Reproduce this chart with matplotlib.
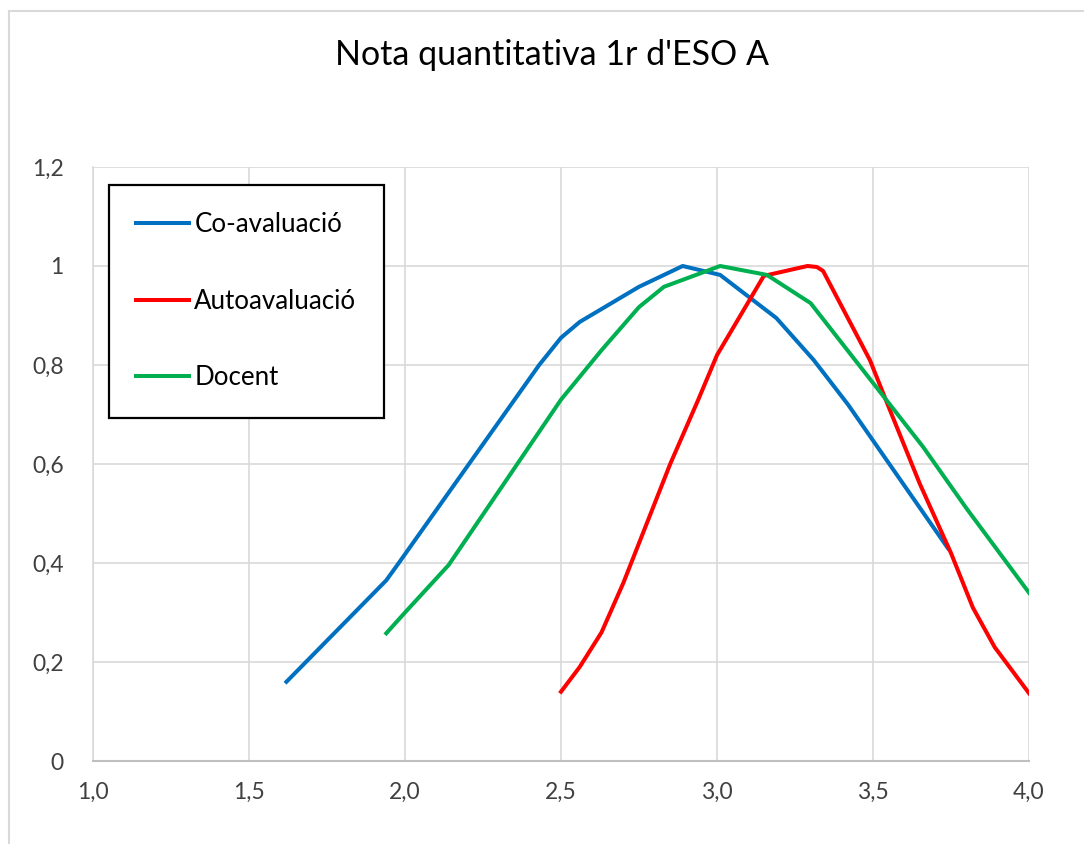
import matplotlib
matplotlib.use("Agg")
import matplotlib.pyplot as plt
from matplotlib.lines import Line2D

plt.rcParams["font.family"] = ["Lato", "DejaVu Sans"]

# values
coav_x = [1.62, 1.94, 1.98, 2.43, 2.50, 2.56, 2.75, 2.89, 3.01, 3.19, 3.31, 3.42, 3.74]
coav_y = [0.16, 0.365, 0.40, 0.80, 0.855, 0.887, 0.958, 1.0, 0.982, 0.895, 0.81, 0.72, 0.43]

auto_x = [2.50, 2.56, 2.63, 2.70, 2.75, 2.85, 2.94, 3.00, 3.15, 3.29, 3.32, 3.34,
          3.49, 3.56, 3.65, 3.75, 3.82, 3.89, 4.00]
auto_y = [0.14, 0.19, 0.26, 0.36, 0.44, 0.60, 0.73, 0.82, 0.98, 1.0, 0.998, 0.99,
          0.81, 0.70, 0.56, 0.42, 0.31, 0.23, 0.137]

doc_x = [1.94, 2.00, 2.14, 2.50, 2.63, 2.75, 2.83, 3.01, 3.16, 3.30, 3.46, 3.66, 3.80, 4.00]
doc_y = [0.258, 0.30, 0.396, 0.73, 0.83, 0.917, 0.958, 1.0, 0.982, 0.925, 0.796, 0.635, 0.51, 0.34]

x_ticks = [1.0, 1.5, 2.0, 2.5, 3.0, 3.5, 4.0]
x_labels = ["1,0", "1,5", "2,0", "2,5", "3,0", "3,5", "4,0"]
y_ticks = [0, 0.2, 0.4, 0.6, 0.8, 1.0, 1.2]
y_labels = ["0", "0,2", "0,4", "0,6", "0,8", "1", "1,2"]

BLUE, RED, GREEN = "#0070c0", "#ff0000", "#00b050"
GRID, TXT = "#d9d9d9", "#404040"

W, H = 1084, 844
fig = plt.figure(figsize=(W / 100, H / 100), dpi=100, facecolor="white")
ax = fig.add_axes([93 / W, 1 - 761 / H, 936 / W, 594 / H])

ax.plot(coav_x, coav_y, color=BLUE, lw=2.9, label="Co-avaluació", solid_joinstyle="round")
ax.plot(auto_x, auto_y, color=RED, lw=2.9, label="Autoavaluació", solid_joinstyle="round")
ax.plot(doc_x, doc_y, color=GREEN, lw=2.9, label="Docent", solid_joinstyle="round")

ax.set_xlim(1.0, 4.0)
ax.set_ylim(0, 1.2)
ax.set_xticks(x_ticks, x_labels)
ax.set_yticks(y_ticks, y_labels)
ax.tick_params(length=0, labelsize=16.5, colors=TXT)
ax.tick_params(axis="y", pad=21)
ax.tick_params(axis="x", pad=15)
ax.grid(True, color=GRID, lw=1.2)
ax.set_axisbelow(True)
for sp in ("top", "right"):
    ax.spines[sp].set_visible(False)
ax.spines["left"].set_color(GRID)
ax.spines["left"].set_linewidth(1.2)
ax.spines["bottom"].set_color("#bfbfbf")
ax.spines["bottom"].set_linewidth(1.5)

leg = ax.legend(loc="upper left", bbox_to_anchor=(16 / 936, (761 - 185) / 594),
                borderaxespad=0, fontsize=18.6, handlelength=2.05, handletextpad=0.2,
                labelspacing=2.0, borderpad=1.05, fancybox=False, framealpha=1)
leg.get_frame().set_edgecolor("black")
leg.get_frame().set_linewidth(1.6)
for t in leg.get_texts():
    t.set_color("black")

fig.text(552 / W, 1 - 55 / H, "Nota quantitativa 1r d'ESO A", ha="center", va="center",
         fontsize=24.5, color="black")

# chart area border (only top and left edges visible in the crop)
fig.add_artist(Line2D([9 / W, 1], [1 - 11 / H, 1 - 11 / H], color=GRID, lw=1.5,
                      transform=fig.transFigure))
fig.add_artist(Line2D([9 / W, 9 / W], [0, 1 - 11 / H], color=GRID, lw=1.5,
                      transform=fig.transFigure))

fig.savefig("out.png", dpi=100, facecolor="white")
